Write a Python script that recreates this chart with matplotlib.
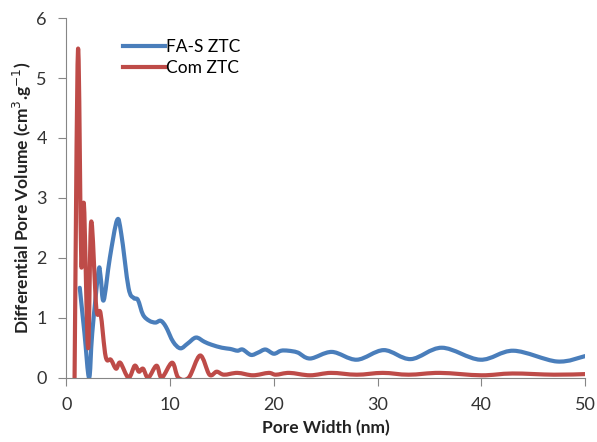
import matplotlib
matplotlib.use('Agg')
import matplotlib.pyplot as plt
from matplotlib.path import Path
from matplotlib.patches import PathPatch
from matplotlib.lines import Line2D

plt.rcParams['font.family'] = ['Lato', 'DejaVu Sans']

# FA-S ZTC (blue)
fas_x = [1.3, 1.75, 2.2, 2.5, 3.1, 3.3, 3.6, 4.2, 4.9, 5.3, 6.0, 6.5, 6.9, 7.4, 8.0,
         8.6, 9.1, 9.6, 10.3, 11.0, 11.7, 12.5, 13.3, 14.0, 15.0, 15.8, 16.5, 17.0,
         17.8, 18.5, 19.2, 20.0, 20.7, 21.4, 22.3, 23.5, 25.6, 28.0, 30.6, 33.2, 36.2,
         39.9, 43.1, 47.3, 50.0]
fas_y = [1.5, 0.75, 0.0, 0.74, 1.77, 1.7, 1.29, 2.0, 2.63, 2.4, 1.5, 1.33, 1.3, 1.05, 0.95,
         0.92, 0.95, 0.85, 0.6, 0.49, 0.57, 0.67, 0.6, 0.55, 0.5, 0.48, 0.45, 0.47,
         0.38, 0.42, 0.47, 0.4, 0.45, 0.45, 0.42, 0.32, 0.43, 0.3, 0.46, 0.31, 0.5,
         0.3, 0.45, 0.27, 0.36]

# Com ZTC (red)
com_x = [0.8, 1.13, 1.45, 1.7, 2.1, 2.4, 2.9, 3.3, 3.8, 4.3, 4.8, 5.2, 6.0, 6.6, 7.0,
         7.4, 7.9, 8.7, 9.2, 10.2, 10.8, 11.8, 12.9, 13.8, 14.5, 15.2, 16.5, 18.0,
         19.5, 20.2, 21.5, 23.5, 25.5, 28.0, 30.5, 33.0, 36.0, 40.0, 43.0, 47.0, 50.0]
com_y = [0.0, 5.47, 1.9, 2.9, 0.49, 2.6, 1.15, 1.08, 0.35, 0.3, 0.15, 0.25, 0.0, 0.2, 0.1,
         0.15, 0.0, 0.2, 0.0, 0.25, 0.0, 0.0, 0.37, 0.05, 0.1, 0.05, 0.08, 0.04,
         0.08, 0.05, 0.08, 0.04, 0.08, 0.05, 0.08, 0.05, 0.08, 0.04, 0.07, 0.05, 0.06]

blue = '#4a7ebb'
red = '#be4b48'


def smooth_path(xs, ys):
    # Excel-style smoothed line: Catmull-Rom segments drawn as cubic Beziers
    pts = list(zip(xs, ys))
    verts = [pts[0]]
    codes = [Path.MOVETO]
    for i in range(len(pts) - 1):
        p0 = pts[i - 1] if i > 0 else pts[i]
        p1 = pts[i]
        p2 = pts[i + 1]
        p3 = pts[i + 2] if i + 2 < len(pts) else pts[i + 1]
        c1 = (p1[0] + (p2[0] - p0[0]) / 6, p1[1] + (p2[1] - p0[1]) / 6)
        c2 = (p2[0] - (p3[0] - p1[0]) / 6, p2[1] - (p3[1] - p1[1]) / 6)
        verts += [c1, c2, p2]
        codes += [Path.CURVE4] * 3
    return Path(verts, codes)


fig = plt.figure(figsize=(5.97, 4.42), dpi=100)
ax = fig.add_axes([0.111, 0.1455, 0.869, 0.8135])

for xs, ys, c in [(fas_x, fas_y, blue), (com_x, com_y, red)]:
    ax.add_patch(PathPatch(smooth_path(xs, ys), fill=False, edgecolor=c, lw=3,
                           capstyle='round', joinstyle='round', zorder=3))

ax.set_xlim(0, 50)
ax.set_ylim(0, 6)
ax.set_xticks(range(0, 51, 10))
ax.set_yticks(range(0, 7))

for s in ['top', 'right']:
    ax.spines[s].set_visible(False)
for s in ['left', 'bottom']:
    ax.spines[s].set_color('#868686')
ax.tick_params(colors='#868686', labelcolor='#333333', labelsize=13, length=6)
ax.tick_params(axis='x', pad=8)
ax.tick_params(axis='y', pad=8)

ax.set_xlabel('Pore Width (nm)', fontsize=12.5, fontweight='bold', color='#222222', labelpad=5)
ax.set_ylabel('Differential Pore Volume (cm$^{3}$.g$^{-1}$)', fontsize=12.5,
              fontweight='bold', color='#222222', labelpad=2)

handles = [Line2D([], [], color=blue, lw=3), Line2D([], [], color=red, lw=3)]
ax.legend(handles, ['FA-S ZTC', 'Com ZTC'], loc='upper left', bbox_to_anchor=(0.079, 0.985),
          frameon=False, fontsize=12.5, handlelength=2.4, handletextpad=0.1, labelspacing=0.3)

fig.savefig('out.png', dpi=100)
